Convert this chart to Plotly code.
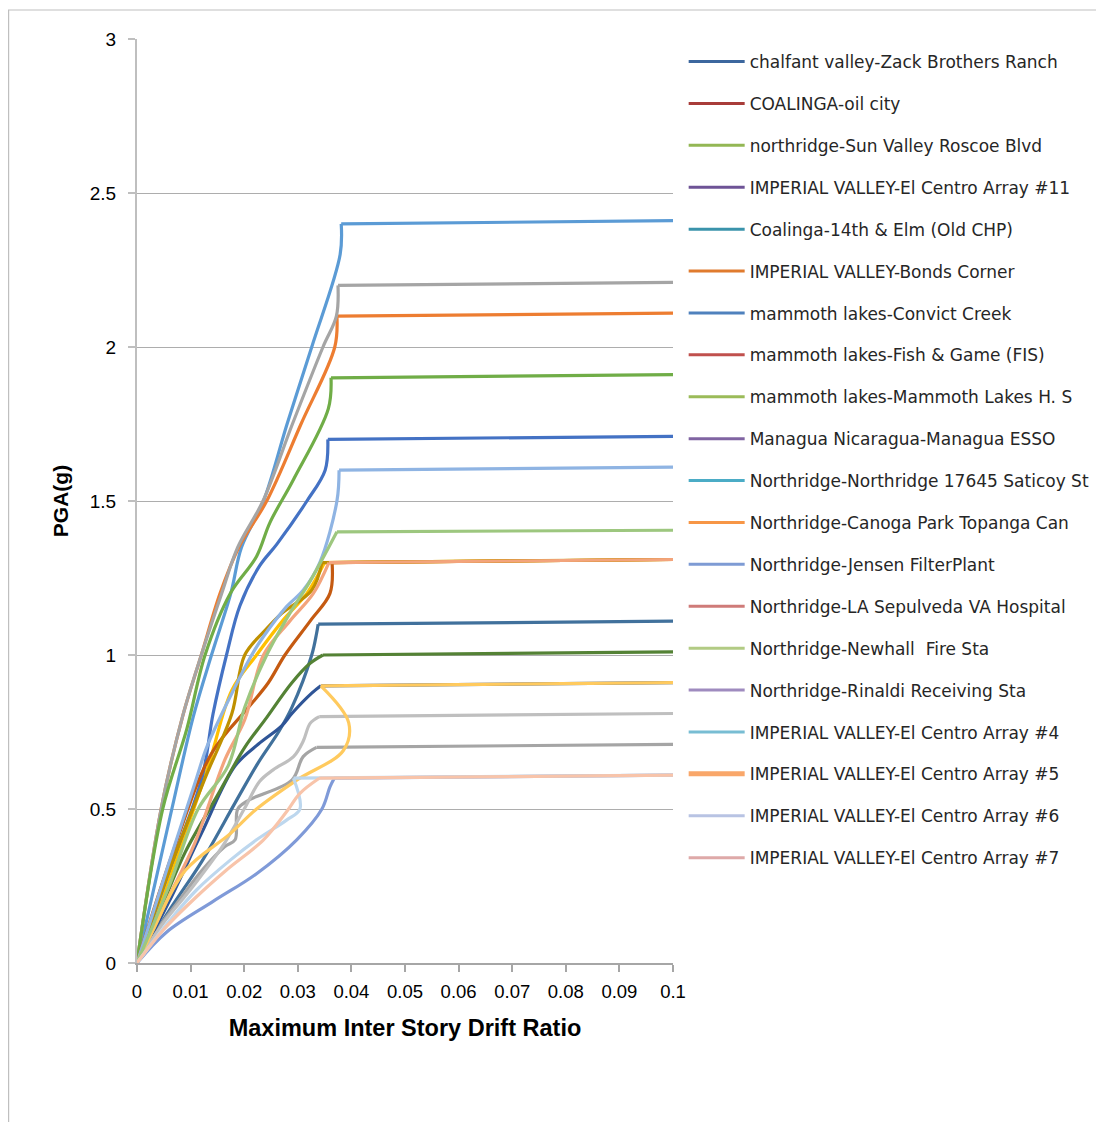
import plotly.graph_objects as go

# ---------------- data ----------------
series_names = [
    "chalfant valley-Zack Brothers Ranch",
    "COALINGA-oil city",
    "northridge-Sun Valley Roscoe Blvd",
    "IMPERIAL VALLEY-El Centro Array #11",
    "Coalinga-14th & Elm (Old CHP)",
    "IMPERIAL VALLEY-Bonds Corner",
    "mammoth lakes-Convict Creek",
    "mammoth lakes-Fish & Game (FIS)",
    "mammoth lakes-Mammoth Lakes H. S",
    "Managua Nicaragua-Managua ESSO",
    "Northridge-Northridge 17645 Saticoy St",
    "Northridge-Canoga Park Topanga Can",
    "Northridge-Jensen FilterPlant",
    "Northridge-LA Sepulveda VA Hospital",
    "Northridge-Newhall  Fire Sta",
    "Northridge-Rinaldi Receiving Sta",
    "IMPERIAL VALLEY-El Centro Array #4",
    "IMPERIAL VALLEY-El Centro Array #5",
    "IMPERIAL VALLEY-El Centro Array #6",
    "IMPERIAL VALLEY-El Centro Array #7",
]

drift_01 = [0, 0.0065, 0.0105, 0.0139, 0.0175, 0.0195, 0.0236, 0.028, 0.0326, 0.0379, 0.0381, 0.1]
pga_01 = [0, 0.5, 0.8, 1.0, 1.2, 1.35, 1.5, 1.75, 2.0, 2.3, 2.4, 2.41]

drift_02 = [0, 0.0045, 0.0085, 0.012, 0.0155, 0.019, 0.0242, 0.0306, 0.0369, 0.0373, 0.1]
pga_02 = [0, 0.5, 0.8, 1.0, 1.2, 1.35, 1.5, 1.75, 2.0, 2.1, 2.11]

drift_03 = [0, 0.0045, 0.0085, 0.012, 0.0158, 0.0188, 0.0235, 0.029, 0.0347, 0.0372, 0.0375, 0.1]
pga_03 = [0, 0.5, 0.8, 1.0, 1.2, 1.35, 1.5, 1.75, 2.0, 2.1, 2.2, 2.21]

drift_04 = [0, 0.0065, 0.0133, 0.0177, 0.0223, 0.0273, 0.0317, 0.035, 0.1]
pga_04 = [0, 0.3, 0.64, 0.886, 1.0, 1.114, 1.2, 1.3, 1.31]

drift_05 = [0, 0.006, 0.0121, 0.0142, 0.0167, 0.0192, 0.0229, 0.0261, 0.0317, 0.0351, 0.0356, 0.1]
pga_05 = [0, 0.3, 0.6, 0.81, 1.0, 1.16, 1.29, 1.36, 1.5, 1.6, 1.7, 1.71]

drift_06 = [0, 0.0048, 0.0093, 0.0127, 0.0174, 0.0223, 0.0248, 0.0292, 0.0357, 0.0362, 0.1]
pga_06 = [0, 0.5, 0.76, 1.0, 1.2, 1.32, 1.43, 1.57, 1.8, 1.9, 1.91]

drift_07 = [0, 0.006, 0.0121, 0.0183, 0.0226, 0.0264, 0.0289, 0.0326, 0.0335, 0.0338, 0.1]
pga_07 = [0, 0.17, 0.33, 0.52, 0.65, 0.75, 0.83, 1.0, 1.07, 1.1, 1.11]

drift_08 = [0, 0.0065, 0.0139, 0.0208, 0.0245, 0.0276, 0.0323, 0.036, 0.0364, 0.1]
pga_08 = [0, 0.35, 0.68, 0.83, 0.91, 1.0, 1.11, 1.2, 1.3, 1.31]

drift_09 = [0, 0.0034, 0.0077, 0.0121, 0.0164, 0.0183, 0.0188, 0.021, 0.0289, 0.031, 0.0335, 0.1]
pga_09 = [0, 0.1, 0.2, 0.3, 0.378, 0.4, 0.5, 0.53, 0.594, 0.67, 0.7, 0.71]

drift_10 = [0, 0.006, 0.0127, 0.0177, 0.0201, 0.0239, 0.027, 0.0326, 0.0345, 0.1]
pga_10 = [0, 0.3, 0.6, 0.81, 1.0, 1.08, 1.135, 1.21, 1.3, 1.31]

drift_11 = [0, 0.006, 0.012, 0.0183, 0.0226, 0.027, 0.0289, 0.0326, 0.0343, 0.1]
pga_11 = [0, 0.2, 0.42, 0.64, 0.71, 0.77, 0.81, 0.876, 0.9, 0.91]

drift_12 = [0, 0.005, 0.009, 0.0152, 0.0201, 0.0239, 0.0289, 0.0323, 0.0347, 0.1]
pga_12 = [0, 0.2, 0.36, 0.55, 0.7, 0.79, 0.91, 0.973, 1.0, 1.01]

drift_13 = [0, 0.0055, 0.0111, 0.013, 0.0174, 0.0214, 0.0236, 0.0279, 0.031, 0.0341, 0.0373, 0.0377, 0.1]
pga_13 = [0, 0.3, 0.6, 0.7, 0.865, 1.0, 1.06, 1.157, 1.21, 1.3, 1.5, 1.6, 1.61]

drift_14 = [0, 0.0055, 0.0108, 0.0164, 0.0201, 0.0236, 0.0285, 0.0329, 0.0358, 0.1]
pga_14 = [0, 0.2, 0.39, 0.66, 0.79, 1.0, 1.11, 1.2, 1.3, 1.31]

drift_15 = [0, 0.0045, 0.0105, 0.016, 0.02, 0.0229, 0.0254, 0.0292, 0.031, 0.0323, 0.034, 0.1]
pga_15 = [0, 0.12, 0.25, 0.38, 0.5, 0.59, 0.627, 0.67, 0.72, 0.778, 0.8, 0.81]

drift_16 = [0, 0.0027, 0.009, 0.0174, 0.0223, 0.0298, 0.0385, 0.0395, 0.0343, 0.1]
pga_16 = [0, 0.096, 0.3, 0.42, 0.5, 0.594, 0.69, 0.78, 0.9, 0.91]

drift_17 = [0, 0.0055, 0.0142, 0.0223, 0.0298, 0.0345, 0.036, 0.0368, 0.1]
pga_17 = [0, 0.1, 0.2, 0.29, 0.4, 0.5, 0.572, 0.6, 0.61]

drift_18 = [0, 0.006, 0.0114, 0.017, 0.0201, 0.0242, 0.0285, 0.0323, 0.0373, 0.1]
pga_18 = [0, 0.25, 0.5, 0.64, 0.83, 1.0, 1.135, 1.24, 1.4, 1.405]

drift_19 = [0, 0.0062, 0.0111, 0.0174, 0.0223, 0.0279, 0.0304, 0.0292, 0.1]
pga_19 = [0, 0.14, 0.237, 0.334, 0.4, 0.464, 0.5, 0.6, 0.61]

drift_20 = [0, 0.0049, 0.0111, 0.0167, 0.0236, 0.0279, 0.0304, 0.034, 0.1]
pga_20 = [0, 0.107, 0.215, 0.302, 0.4, 0.491, 0.551, 0.6, 0.61]

x_ticks = [0, 0.01, 0.02, 0.03, 0.04, 0.05, 0.06, 0.07, 0.08, 0.09, 0.1]
x_tick_labels = ["0", "0.01", "0.02", "0.03", "0.04", "0.05", "0.06", "0.07", "0.08", "0.09", "0.1"]
y_ticks = [0, 0.5, 1, 1.5, 2, 2.5, 3]
y_tick_labels = ["0", "0.5", "1", "1.5", "2", "2.5", "3"]

all_drift = [drift_01, drift_02, drift_03, drift_04, drift_05, drift_06, drift_07, drift_08, drift_09, drift_10,
             drift_11, drift_12, drift_13, drift_14, drift_15, drift_16, drift_17, drift_18, drift_19, drift_20]
all_pga = [pga_01, pga_02, pga_03, pga_04, pga_05, pga_06, pga_07, pga_08, pga_09, pga_10,
           pga_11, pga_12, pga_13, pga_14, pga_15, pga_16, pga_17, pga_18, pga_19, pga_20]

# ---------------- styles ----------------
line_colors = ["#5B9BD5", "#ED7D31", "#A5A5A5", "#FFC000", "#4472C4", "#70AD47",
               "#41719C", "#C55A11", "#A5A5A5", "#BF9000", "#2F5597", "#548235",
               "#8FB4E3", "#F3A47C", "#BFBFBF", "#FFCA5E", "#7F9AD8", "#9DC77F",
               "#BDD7EE", "#F8C4AA"]
legend_colors = ["#3C679E", "#A83C39", "#93B754", "#6E5396", "#3A93AB", "#E07B2E",
                 "#4F81BD", "#C0504D", "#9BBB59", "#8064A2", "#4BACC6", "#F79646",
                 "#7E9BD4", "#CF7B79", "#B2CB84", "#9F8BBF", "#78BDD3", "#F9A76A",
                 "#B8C3E3", "#DEA9A8"]
legend_widths = [3] * 17 + [5, 3, 3]

FONT = "Liberation Sans"
LEG_FONT = "DejaVu Sans"
LW = 3.2

fig = go.Figure()
for i in range(len(series_names)):
    xs, ys = all_drift[i], all_pga[i]
    # rising branch: smoothed line through the points up to the collapse plateau
    fig.add_trace(go.Scatter(
        x=xs[:-1], y=ys[:-1], mode="lines",
        line=dict(color=line_colors[i], width=LW, shape="spline", smoothing=1.0),
        name=series_names[i], showlegend=False, legendgroup="g%d" % i,
    ))
    # flat collapse plateau
    fig.add_trace(go.Scatter(
        x=xs[-2:], y=ys[-2:], mode="lines",
        line=dict(color=line_colors[i], width=LW),
        name=series_names[i], showlegend=False, legendgroup="g%d" % i,
    ))
for i in range(len(series_names)):
    fig.add_trace(go.Scatter(
        x=[None], y=[None], mode="lines",
        line=dict(color=legend_colors[i], width=legend_widths[i]),
        name=series_names[i], legendgroup="g%d" % i, showlegend=True,
    ))

# page is offset by the browser's 8px body margin
W, H = 1096, 1114
L, R, T, B = 129, 665, 31, 955

fig.update_layout(
    width=W, height=H,
    margin=dict(l=L, r=W - R, t=T, b=H - B, autoexpand=False),
    paper_bgcolor="white", plot_bgcolor="white",
    font=dict(family=FONT, color="#000000", size=17),
    legend=dict(
        x=1.0199, y=0.9946, xanchor="left", yanchor="top",
        font=dict(family=LEG_FONT, size=17, color="#262626"),
        tracegroupgap=16.8, bgcolor="rgba(0,0,0,0)", itemwidth=56,
    ),
    xaxis=dict(
        range=[0, 0.1], tickvals=x_ticks, ticktext=x_tick_labels,
        showgrid=False, zeroline=False, showline=True, linecolor="#A6A6A6", linewidth=1.5,
        ticks="outside", ticklen=7, tickcolor="#A6A6A6", tickwidth=1.5, ticklabelstandoff=4,
        tickfont=dict(family=FONT, size=18.5, color="#000000"),
        title=dict(text="<b>Maximum Inter Story Drift Ratio</b>", font=dict(family=FONT, size=23.5, color="#000000"), standoff=19),
    ),
    yaxis=dict(
        range=[0, 3], tickvals=y_ticks, ticktext=y_tick_labels,
        showgrid=True, gridcolor="#ADADAD", gridwidth=1, zeroline=False,
        showline=True, linecolor="#BFBFBF", linewidth=2,
        ticks="outside", ticklen=7, tickcolor="#BFBFBF", tickwidth=1.5, ticklabelstandoff=8,
        tickfont=dict(family=FONT, size=19, color="#000000"),
        title=dict(text="<b>PGA(g)</b>", font=dict(family=FONT, size=21, color="#000000"), standoff=15),
    ),
)

# outer chart-area border (runs past the right and bottom edges of the image)
pw, ph = R - L, B - T
fig.add_shape(type="rect", xref="paper", yref="paper",
              x0=(0.6 - L) / pw, x1=(W + 10 - L) / pw,
              y0=(B - (H + 10)) / ph, y1=(B - 2) / ph,
              line=dict(color="#BFBFBF", width=1.2), fillcolor="rgba(0,0,0,0)", layer="below")

fig.write_html("out.html")
